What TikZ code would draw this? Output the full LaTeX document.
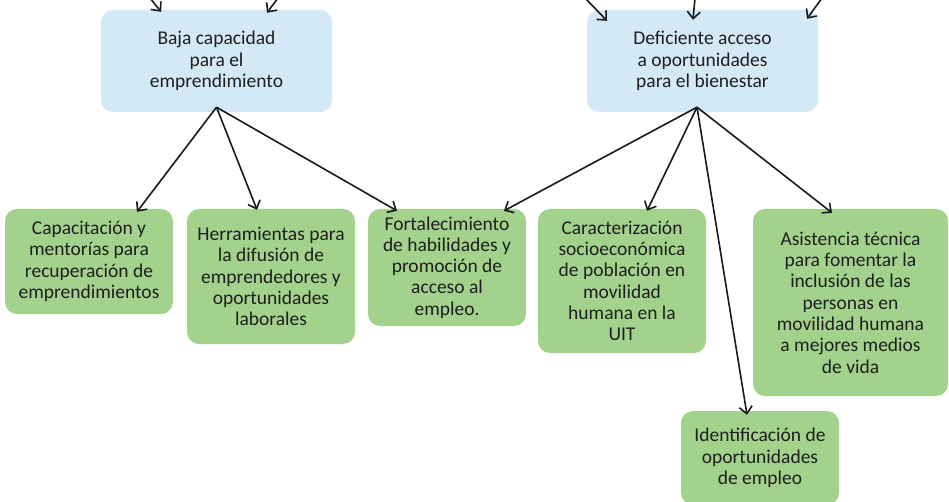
\documentclass[tikz,border=0pt]{standalone}
\usepackage{fontspec}
\setmainfont{Carlito}
\usepackage{tikz}
\usetikzlibrary{arrows.meta, positioning, shapes}

\definecolor{azulcaja}{RGB}{211,233,246}
\definecolor{verdecaja}{RGB}{163,210,140}
\definecolor{texto}{RGB}{30,30,30}
\definecolor{linea}{RGB}{25,25,25}

\begin{document}
\begin{tikzpicture}[x=1pt, y=-1pt,
			box/.style={rectangle, rounded corners=12pt, align=center, inner sep=0pt,
				text=texto, font=\fontsize{19.5}{21.3}\selectfont},
			causa/.style={box, fill=azulcaja, minimum width=231pt, minimum height=102pt},
			accion/.style={box, fill=verdecaja},
			arrow/.style={-{Straight Barb[length=7pt, width=13pt]}, line width=1.6pt, draw=linea}]
			
			\useasboundingbox (0,0) rectangle (949,502);
			
			% nodos
			\node[causa] (baja) at (216.5,61) {Baja capacidad\\para el\\emprendimiento};
			\node[causa] (deficiente) at (702.5,61) {Deficiente acceso\\a oportunidades\\para el bienestar};
			
			\node[accion, minimum width=168pt, minimum height=105pt] (capacitacion) at (89,261.5)
				{Capacitación y\\mentorías para\\recuperación de\\emprendimientos};
			\node[accion, minimum width=168pt, minimum height=135pt] (herramientas) at (271,276.5)
				{Herramientas para\\la difusión de\\emprendedores y\\oportunidades\\laborales};
			\node[accion, minimum width=158pt, minimum height=117pt] (fortalecimiento) at (447,267.5)
				{Fortalecimiento\\de habilidades y\\promoción de\\acceso al\\empleo.};
			\node[accion, minimum width=168pt, minimum height=144pt] (caracterizacion) at (622,281)
				{Caracterización\\socioeconómica\\de población en\\movilidad\\humana en la\\UIT};
			\node[accion, minimum width=195pt, minimum height=187pt] (asistencia) at (850.5,302.5)
				{Asistencia técnica\\para fomentar la\\inclusión de las\\personas en\\movilidad humana\\a mejores medios\\de vida};
			\node[accion, minimum width=158pt, minimum height=94pt] (identificacion) at (760,458)
				{Identificación de\\oportunidades\\de empleo};
			
			% flechas que llegan desde arriba
			\coordinate (entrada1) at (150,-2);
			\coordinate (entrada2) at (278,-2);
			\coordinate (entrada3) at (585,-2);
			\coordinate (entrada4) at (695,-2);
			\coordinate (entrada5) at (822,-2);
			\draw[arrow] (entrada1) -- ([xshift=-55.5pt, yshift=-2pt]baja.north);
			\draw[arrow] (entrada2) -- ([xshift=50.5pt, yshift=-3pt]baja.north);
			\draw[arrow] (entrada3) -- ([xshift=-95.5pt, yshift=-11pt]deficiente.north);
			\draw[arrow] (entrada4) -- ([xshift=-9.5pt, yshift=-10pt]deficiente.north);
			\draw[arrow] (entrada5) -- ([xshift=104.5pt, yshift=-9pt]deficiente.north);
			
			% conexiones
			\draw[arrow] ([yshift=5pt]baja.south) -- ([xshift=48pt, yshift=-3pt]capacitacion.north);
			\draw[arrow] ([yshift=5pt]baja.south) -- ([xshift=-14pt, yshift=-1pt]herramientas.north);
			\draw[arrow] ([yshift=5pt]baja.south) -- ([xshift=-50pt, yshift=-2pt]fortalecimiento.north);
			\draw[arrow] ([xshift=-5.5pt, yshift=5pt]deficiente.south) -- ([xshift=57pt, yshift=-2pt]fortalecimiento.north);
			\draw[arrow] ([xshift=-5.5pt, yshift=5pt]deficiente.south) -- ([xshift=25pt, yshift=-2pt]caracterizacion.north);
			\draw[arrow] ([xshift=-5.5pt, yshift=5pt]deficiente.south) -- ([xshift=-13pt, yshift=-4pt]identificacion.north);
			\draw[arrow] ([xshift=-5.5pt, yshift=5pt]deficiente.south) -- ([xshift=-18.5pt, yshift=-4pt]asistencia.north);
			
		\end{tikzpicture}
\end{document}
